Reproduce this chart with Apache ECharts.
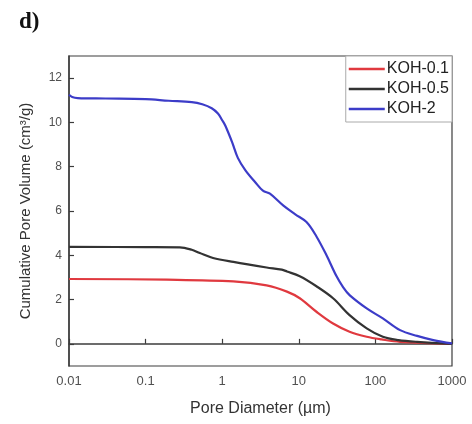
<!DOCTYPE html>
<html>
<head>
<meta charset="utf-8">
<script src="https://cdn.jsdelivr.net/npm/echarts@6/dist/echarts.min.js"></script>
<style>
  html, body { margin: 0; padding: 0; background: #fff; }
  #chart { width: 472px; height: 424px; }
</style>
</head>
<body>
<div id="chart"></div>
<script>
// Pore diameter (µm) and cumulative pore volume (cm³/g) for each sample
const koh01Diameter = [0.01, 0.19, 1.4, 3.8, 7, 10.3, 17, 28, 46, 77, 120, 210, 1000];
const koh01Volume   = [2.93, 2.90, 2.82, 2.64, 2.36, 2.06, 1.45, 0.92, 0.55, 0.32, 0.20, 0.09, 0.0];

const koh05Diameter = [0.01, 0.1, 0.28, 0.4, 0.51, 0.76, 1.4, 3.8, 6, 7, 10.3, 17, 28, 46, 77, 125, 200, 350, 1000];
const koh05Volume   = [4.38, 4.37, 4.36, 4.25, 4.10, 3.88, 3.70, 3.45, 3.35, 3.27, 3.05, 2.60, 2.06, 1.30, 0.70, 0.32, 0.17, 0.09, 0.0];

const koh2Diameter = [0.01, 0.011, 0.013, 0.03, 0.1, 0.2, 0.4, 0.55, 0.73, 0.88, 1.0, 1.1, 1.35, 1.6, 2.0, 2.7, 3.4, 4.2, 6.3, 9, 12.6, 17, 23, 31, 38, 46, 77, 125, 210, 350, 570, 1000];
const koh2Volume   = [11.25, 11.15, 11.10, 11.08, 11.05, 10.98, 10.92, 10.82, 10.64, 10.40, 10.10, 9.85, 9.10, 8.40, 7.85, 7.30, 6.92, 6.78, 6.24, 5.85, 5.50, 4.85, 4.00, 3.06, 2.55, 2.20, 1.60, 1.15, 0.62, 0.36, 0.17, 0.02];

const seriesNames = ['KOH-0.1', 'KOH-0.5', 'KOH-2'];
const seriesColors = ['#e0393f', '#333333', '#3c3cc8'];
const xTickLabels = ['0.01', '0.1', '1', '10', '100', '1000'];
const yTickValues = [0, 2, 4, 6, 8, 10, 12];

function pairs(xs, ys) {
  return xs.map((x, i) => [x, ys[i]]);
}

const chart = echarts.init(document.getElementById('chart'), null, { renderer: 'canvas' });

const axisColor = '#3c3c3c';
const labelColor = '#505050';
const font = 'Liberation Sans, Arial, sans-serif';

const curves = [
  pairs(koh01Diameter, koh01Volume),
  pairs(koh05Diameter, koh05Volume),
  pairs(koh2Diameter, koh2Volume)
];

chart.setOption({
  animation: false,
  backgroundColor: '#ffffff',
  title: {
    text: 'd)',
    left: 14,
    top: 6,
    textStyle: { fontFamily: 'Liberation Serif, DejaVu Serif, serif', fontWeight: 'bold', fontSize: 23, color: '#111' }
  },
  grid: {
    left: 69, right: 20, top: 56, bottom: 58,
    show: true, borderColor: axisColor, borderWidth: 1.2, backgroundColor: '#fff'
  },
  legend: {
    data: seriesNames.map(n => ({ name: n, icon: 'rect' })),
    orient: 'vertical',
    right: 20,
    top: 56,
    itemWidth: 36,
    itemHeight: 2.5,
    itemGap: 2,
    padding: [4, 3, 4, 3],
    backgroundColor: '#fff',
    borderColor: '#aaaaaa',
    borderWidth: 1,
    textStyle: { fontFamily: font, fontSize: 16, color: '#222', lineHeight: 18, padding: [0, 0, 0, -3] }
  },
  xAxis: {
    type: 'log',
    logBase: 10,
    min: 0.01,
    max: 1000,
    name: 'Pore Diameter (µm)',
    nameLocation: 'middle',
    nameGap: 35,
    nameTextStyle: { fontFamily: font, fontSize: 16, color: '#333' },
    axisLine: { lineStyle: { color: axisColor, width: 1.5 } },
    axisTick: { inside: true, length: 5, lineStyle: { color: axisColor, width: 1.2 } },
    minorTick: { show: false },
    splitLine: { show: false },
    axisLabel: {
      fontFamily: font, fontSize: 13, color: labelColor, margin: 9,
      formatter: v => xTickLabels[Math.round(Math.log10(v)) + 2]
    }
  },
  yAxis: {
    type: 'value',
    min: -1,
    max: 13,
    name: 'Cumulative Pore Volume (cm³/g)',
    nameLocation: 'middle',
    nameGap: 36,
    nameTextStyle: { fontFamily: font, fontSize: 15, color: '#333' },
    axisLine: { show: true, lineStyle: { color: axisColor, width: 1.5 } },
    axisTick: { show: true, inside: true, length: 5, customValues: yTickValues, lineStyle: { color: axisColor, width: 1.2 } },
    splitLine: { show: false },
    axisLabel: {
      fontFamily: font, fontSize: 12, color: labelColor, margin: 7,
      customValues: yTickValues
    }
  },
  series: seriesNames.map((name, i) => ({
    name: name,
    type: 'line',
    data: curves[i],
    symbol: 'none',
    smooth: 0.35,
    z: 2 + i,
    lineStyle: { color: seriesColors[i], width: 2.2 },
    itemStyle: { color: seriesColors[i] }
  }))
});
</script>
</body>
</html>
